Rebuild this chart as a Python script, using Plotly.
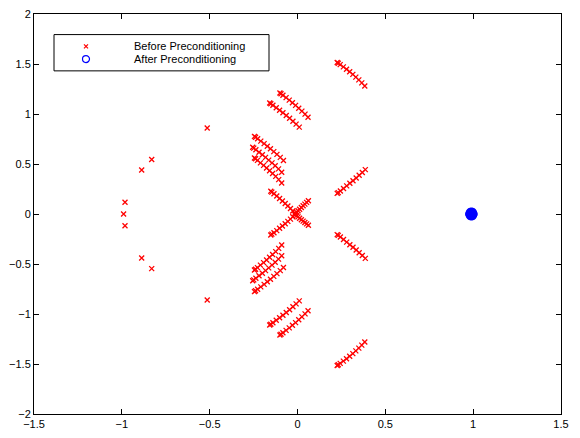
import plotly.graph_objects as go

# ---- data: eigenvalues before preconditioning (real / imaginary parts), read per arc ----
tr_up_re = [0.226, 0.232, 0.243, 0.261, 0.279, 0.297, 0.315, 0.332, 0.349, 0.366, 0.383]
tr_up_im = [1.515, 1.507, 1.494, 1.471, 1.447, 1.422, 1.396, 1.369, 1.341, 1.311, 1.280]
tr_dn_re = [0.226, 0.232, 0.243, 0.261, 0.279, 0.297, 0.315, 0.332, 0.349, 0.366, 0.383]
tr_dn_im = [-1.515, -1.507, -1.494, -1.471, -1.447, -1.422, -1.396, -1.369, -1.341, -1.311, -1.280]

pa_up_re = [-0.100, -0.094, -0.083, -0.065, -0.047, -0.029, -0.011, 0.007, 0.025, 0.043, 0.060]
pa_up_im = [1.210, 1.202, 1.188, 1.164, 1.139, 1.113, 1.086, 1.058, 1.029, 0.999, 0.968]
pa_dn_re = [-0.100, -0.094, -0.083, -0.065, -0.047, -0.029, -0.011, 0.007, 0.025, 0.043, 0.060]
pa_dn_im = [-1.210, -1.202, -1.188, -1.164, -1.139, -1.113, -1.086, -1.058, -1.029, -0.999, -0.968]

pb_up_re = [-0.158, -0.152, -0.140, -0.121, -0.102, -0.083, -0.064, -0.045, -0.026, -0.008, 0.010]
pb_up_im = [1.110, 1.102, 1.087, 1.063, 1.038, 1.012, 0.985, 0.957, 0.928, 0.899, 0.869]
pb_dn_re = [-0.158, -0.152, -0.140, -0.121, -0.102, -0.083, -0.064, -0.045, -0.026, -0.008, 0.010]
pb_dn_im = [-1.110, -1.102, -1.087, -1.063, -1.038, -1.012, -0.985, -0.957, -0.928, -0.899, -0.869]

ta_up_re = [-0.245, -0.239, -0.227, -0.209, -0.190, -0.172, -0.154, -0.135, -0.117, -0.098, -0.080]
ta_up_im = [0.776, 0.768, 0.753, 0.729, 0.704, 0.678, 0.652, 0.624, 0.596, 0.566, 0.535]
ta_dn_re = [-0.245, -0.239, -0.227, -0.209, -0.190, -0.172, -0.154, -0.135, -0.117, -0.098, -0.080]
ta_dn_im = [-0.776, -0.768, -0.753, -0.729, -0.704, -0.678, -0.652, -0.624, -0.596, -0.566, -0.535]

tb_up_re = [-0.255, -0.249, -0.237, -0.219, -0.200, -0.182, -0.164, -0.145, -0.127, -0.108, -0.090]
tb_up_im = [0.667, 0.659, 0.643, 0.618, 0.592, 0.566, 0.539, 0.511, 0.482, 0.451, 0.418]
tb_dn_re = [-0.255, -0.249, -0.237, -0.219, -0.200, -0.182, -0.164, -0.145, -0.127, -0.108, -0.090]
tb_dn_im = [-0.667, -0.659, -0.643, -0.618, -0.592, -0.566, -0.539, -0.511, -0.482, -0.451, -0.418]

tc_up_re = [-0.245, -0.239, -0.228, -0.211, -0.193, -0.176, -0.159, -0.142, -0.124, -0.107, -0.090]
tc_up_im = [0.560, 0.552, 0.536, 0.511, 0.486, 0.460, 0.433, 0.405, 0.376, 0.344, 0.310]
tc_dn_re = [-0.245, -0.239, -0.228, -0.211, -0.193, -0.176, -0.159, -0.142, -0.124, -0.107, -0.090]
tc_dn_im = [-0.560, -0.552, -0.536, -0.511, -0.486, -0.460, -0.433, -0.405, -0.376, -0.344, -0.310]

xl_up_re = [-0.152, -0.146, -0.134, -0.118, -0.102, -0.086, -0.070, -0.055, -0.040, -0.027, -0.015]
xl_up_im = [0.228, 0.219, 0.203, 0.180, 0.155, 0.130, 0.105, 0.080, 0.055, 0.030, 0.008]
xl_dn_re = [-0.152, -0.146, -0.134, -0.118, -0.102, -0.086, -0.070, -0.055, -0.040, -0.027, -0.015]
xl_dn_im = [-0.210, -0.201, -0.187, -0.166, -0.143, -0.120, -0.097, -0.074, -0.051, -0.028, -0.008]

xr_up_re = [0.062, 0.052, 0.042, 0.032, 0.022, 0.012, 0.003, -0.005, -0.012]
xr_up_im = [0.132, 0.116, 0.099, 0.082, 0.065, 0.048, 0.032, 0.017, 0.005]
xr_dn_re = [0.062, 0.052, 0.042, 0.032, 0.022, 0.012, 0.003, -0.005, -0.012]
xr_dn_im = [-0.112, -0.099, -0.085, -0.071, -0.057, -0.043, -0.029, -0.016, -0.005]

mr_up_re = [0.226, 0.232, 0.244, 0.262, 0.280, 0.298, 0.316, 0.334, 0.351, 0.369, 0.386]
mr_up_im = [0.206, 0.214, 0.230, 0.255, 0.281, 0.307, 0.333, 0.360, 0.387, 0.415, 0.444]
mr_dn_re = [0.226, 0.232, 0.244, 0.262, 0.280, 0.298, 0.316, 0.334, 0.351, 0.369, 0.386]
mr_dn_im = [-0.206, -0.214, -0.230, -0.255, -0.281, -0.307, -0.333, -0.360, -0.387, -0.415, -0.444]

iso_re = [-0.514, -0.830, -0.887, -0.982, -0.990, -0.982, -0.887, -0.830, -0.514]
iso_im = [0.860, 0.545, 0.440, 0.118, 0.000, -0.118, -0.440, -0.546, -0.860]

# ---- data: eigenvalues after preconditioning (clustered near 1) ----
after_re = [0.990, 0.974, 0.978, 0.983, 0.990, 0.997, 1.002, 1.006, 1.002, 0.997, 0.990, 0.983, 0.978,
            0.984, 0.996, 0.984, 0.996, 0.980, 1.000, 0.990, 0.990]
after_im = [0.000, 0.000, 0.016, 0.026, 0.030, 0.026, 0.016, 0.000, -0.016, -0.026, -0.030, -0.026, -0.016,
            0.010, 0.010, -0.010, -0.010, 0.004, -0.004, 0.014, -0.014]

legend_labels = ["Before Preconditioning", "After Preconditioning"]
x_ticks = [-1.5, -1, -0.5, 0, 0.5, 1, 1.5]
y_ticks = [-2, -1.5, -1, -0.5, 0, 0.5, 1, 1.5, 2]

groups_re = [tr_up_re, tr_dn_re, pa_up_re, pa_dn_re, pb_up_re, pb_dn_re, ta_up_re, ta_dn_re,
             tb_up_re, tb_dn_re, tc_up_re, tc_dn_re, xl_up_re, xl_dn_re, xr_up_re, xr_dn_re,
             mr_up_re, mr_dn_re, iso_re]
groups_im = [tr_up_im, tr_dn_im, pa_up_im, pa_dn_im, pb_up_im, pb_dn_im, ta_up_im, ta_dn_im,
             tb_up_im, tb_dn_im, tc_up_im, tc_dn_im, xl_up_im, xl_dn_im, xr_up_im, xr_dn_im,
             mr_up_im, mr_dn_im, iso_im]
before_re = [v for g in groups_re for v in g]
before_im = [v for g in groups_im for v in g]

W, H = 580, 438
L, R, T, B = 34, 19, 8, 22
pw, ph = W - L - R, H - T - B


def fx(px):
    return (px - L) / pw


def fy(py):
    return (H - B - py) / ph


fig = go.Figure()
fig.add_trace(go.Scatter(
    x=before_re, y=before_im, mode="markers", name=legend_labels[0], showlegend=False,
    marker=dict(symbol="x-thin-open", size=5, color="red", line=dict(color="red", width=1.3)),
))
fig.add_trace(go.Scatter(
    x=after_re, y=after_im, mode="markers", name=legend_labels[1], showlegend=False,
    marker=dict(symbol="circle-open", size=6, color="blue", line=dict(color="blue", width=1.2)),
))

axis_common = dict(
    showgrid=False, zeroline=False, showline=True, linecolor="black", linewidth=1,
    mirror="ticks", ticks="inside", ticklen=5, tickcolor="black", tickwidth=1,
    tickfont=dict(family="Liberation Sans, Arial, sans-serif", size=11, color="black"),
)
fig.update_xaxes(range=[-1.5, 1.5], tickvals=x_ticks, **axis_common)
fig.update_yaxes(range=[-2, 2], tickvals=y_ticks, **axis_common)

shapes = [
    dict(type="rect", xref="paper", yref="paper", x0=fx(54), x1=fx(269), y0=fy(66), y1=fy(29),
         line=dict(color="black", width=1), fillcolor="white", layer="above"),
    dict(type="line", xref="paper", yref="paper", x0=fx(84), x1=fx(88), y0=fy(39), y1=fy(43),
         line=dict(color="red", width=1.2), layer="above"),
    dict(type="line", xref="paper", yref="paper", x0=fx(84), x1=fx(88), y0=fy(43), y1=fy(39),
         line=dict(color="red", width=1.2), layer="above"),
    dict(type="circle", xref="paper", yref="paper", x0=fx(82.5), x1=fx(89.5), y0=fy(57.5), y1=fy(50.5),
         line=dict(color="blue", width=1.2), layer="above"),
]
annotations = [
    dict(xref="paper", yref="paper", x=fx(132), y=fy(41), text=legend_labels[0], showarrow=False,
         xanchor="left", yanchor="middle",
         font=dict(family="Liberation Sans, Arial, sans-serif", size=11, color="black")),
    dict(xref="paper", yref="paper", x=fx(132), y=fy(54), text=legend_labels[1], showarrow=False,
         xanchor="left", yanchor="middle",
         font=dict(family="Liberation Sans, Arial, sans-serif", size=11, color="black")),
]

fig.update_layout(
    width=W, height=H, margin=dict(l=L, r=R, t=T, b=B, pad=0),
    paper_bgcolor="white", plot_bgcolor="white",
    shapes=shapes, annotations=annotations, showlegend=False,
)
fig.write_html("out.html")
